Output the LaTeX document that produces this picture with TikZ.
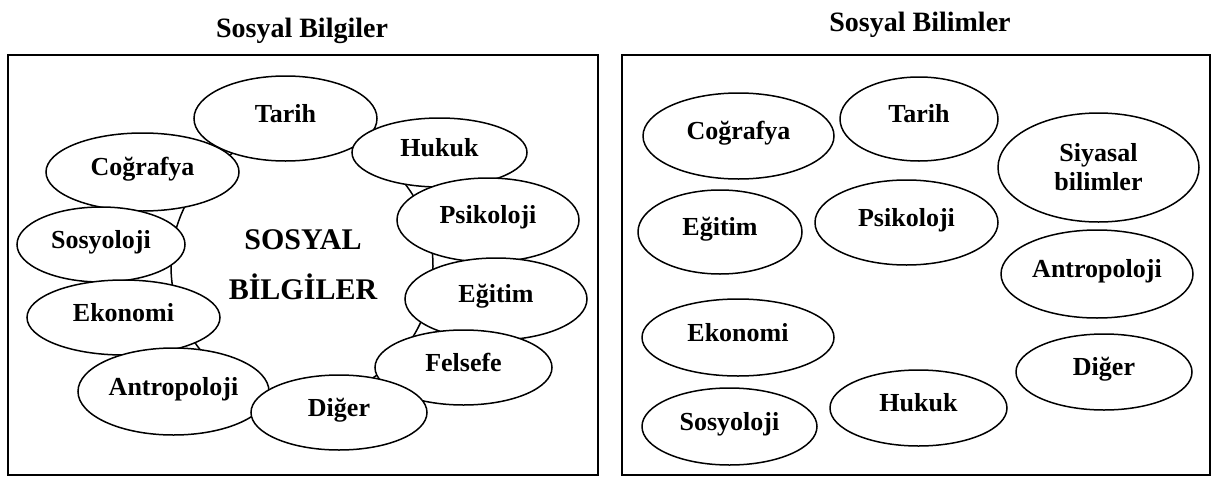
\documentclass[tikz,border=0pt]{standalone}
\usepackage{fontspec}
\setmainfont{Liberation Serif}
\usetikzlibrary{shapes.geometric}
\tikzset{
  frame/.style={draw, line width=1.8pt},
  ring/.style={draw, line width=1.5pt},
  bub/.style={ellipse, draw, line width=1.5pt, fill=white, inner sep=0pt,
    font=\fontsize{26}{28}\selectfont\bfseries, text height=18pt, text depth=11pt},
  bub2/.style={ellipse, draw, line width=1.5pt, fill=white, inner sep=0pt,
    font=\fontsize{26}{29}\selectfont\bfseries, align=center},
  ttl/.style={font=\fontsize{28}{30}\selectfont\bfseries, anchor=base},
  big/.style={font=\fontsize{30}{50}\selectfont\bfseries, align=center}
}
\begin{document}
\begin{tikzpicture}[x=1pt,y=-1pt]
\useasboundingbox (0,0) rectangle (1211,477);
% titles
\node[ttl] (t1) at (302,37) {Sosyal Bilgiler};
\node[ttl] (t2) at (920,31) {Sosyal Bilimler};
% frames
\node[frame, minimum width=590pt, minimum height=420pt, inner sep=0pt] (f1) at (303,265) {};
\node[frame, minimum width=588pt, minimum height=420pt, inner sep=0pt] (f2) at (916,265) {};
% left panel background ring
\node[ellipse, ring, minimum width=262pt, minimum height=266pt, inner sep=0pt] (ring) at (302,266) {};
% left panel ellipses
\node[bub, minimum width=183pt, minimum height=85pt] (lTarih) at (285.5,118.5) {Tarih};
\node[bub, minimum width=193pt, minimum height=78pt] (lCog) at (142.5,172) {Coğrafya};
\node[bub, minimum width=175pt, minimum height=69pt] (lHukuk) at (439.5,152.5) {Hukuk};
\node[bub, minimum width=182pt, minimum height=84pt] (lPsi) at (488,220) {Psikoloji};
\node[bub, minimum width=182pt, minimum height=82pt] (lEgi) at (496,299) {Eğitim};
\node[bub, minimum width=177pt, minimum height=75pt] (lFel) at (463.5,367.5) {Felsefe};
\node[bub, minimum width=168pt, minimum height=75pt] (lSos) at (101,244.5) {Sosyoloji};
\node[bub, minimum width=193pt, minimum height=75pt] (lEko) at (123.5,317.5) {Ekonomi};
\node[bub, minimum width=191pt, minimum height=87pt] (lAnt) at (173.5,391.5) {Antropoloji};
\node[bub, minimum width=176pt, minimum height=75pt] (lDig) at (339,412.5) {Diğer};
\node[big] (center) at (303,265) {SOSYAL\\BİLGİLER};
% right panel ellipses
\node[bub, minimum width=191pt, minimum height=86pt] (rCog) at (738.5,136) {Coğrafya};
\node[bub, minimum width=158pt, minimum height=84pt] (rTarih) at (919,119) {Tarih};
\node[bub2, minimum width=201pt, minimum height=109pt] (rSiy) at (1098.5,167.5) {Siyasal\\bilimler};
\node[bub, minimum width=164pt, minimum height=84pt] (rEgi) at (720,232) {Eğitim};
\node[bub, minimum width=183pt, minimum height=85pt] (rPsi) at (906.5,222.5) {Psikoloji};
\node[bub, minimum width=192pt, minimum height=88pt] (rAnt) at (1097,274) {Antropoloji};
\node[bub, minimum width=192pt, minimum height=77pt] (rEko) at (738,337.5) {Ekonomi};
\node[bub, minimum width=176pt, minimum height=76pt] (rDig) at (1104,372) {Diğer};
\node[bub, minimum width=177pt, minimum height=76pt] (rHuk) at (918.5,408) {Hukuk};
\node[bub, minimum width=175pt, minimum height=77pt] (rSos) at (729.5,426.5) {Sosyoloji};
\end{tikzpicture}
\end{document}
